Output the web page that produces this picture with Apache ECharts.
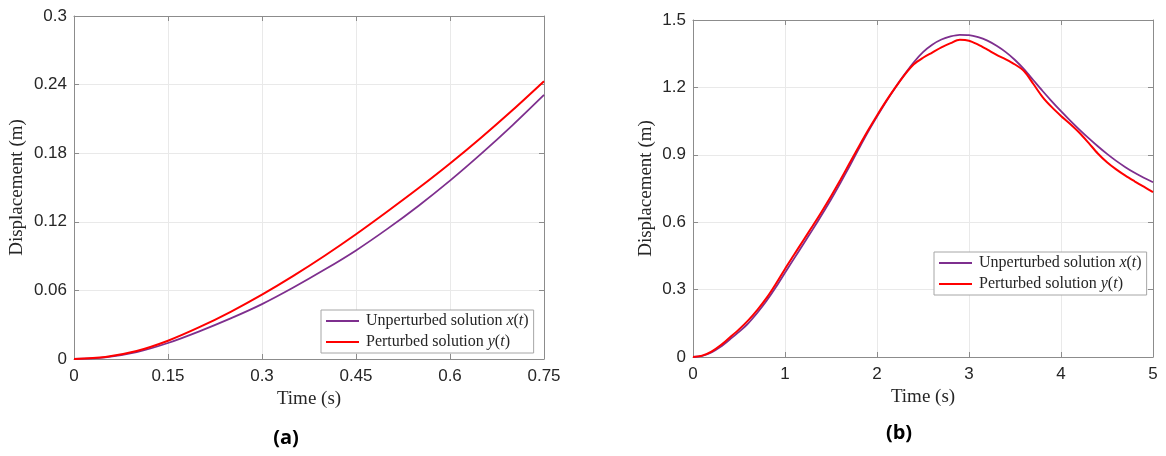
<!DOCTYPE html>
<html>
<head>
<meta charset="utf-8">
<script src="https://cdn.jsdelivr.net/npm/echarts@6/dist/echarts.min.js"></script>
<style>
    html, body { margin: 0; padding: 0; background: #fff; }
    #chart { width: 1166px; height: 456px; }
</style>
</head>
<body>
<div id="chart"></div>
<script>
    // (a) 短时间 0 - 0.75 s
    var timeA = [0, 0.05, 0.1, 0.15, 0.2, 0.25, 0.3, 0.35, 0.4, 0.45, 0.5, 0.55, 0.6, 0.65, 0.7, 0.75];
    var unpertA = [0, 0.0015, 0.006, 0.014, 0.0242, 0.0355, 0.048, 0.0625, 0.0782, 0.095, 0.1138, 0.1341, 0.156, 0.1796, 0.2046, 0.231];
    var pertA = [0, 0.0018, 0.007, 0.016, 0.0278, 0.0413, 0.0563, 0.0727, 0.0903, 0.1091, 0.129, 0.1495, 0.171, 0.1938, 0.2178, 0.243];

    // (b) 0 - 5 s
    var timeB = [0, 0.1, 0.2, 0.3, 0.4, 0.5, 0.6, 0.7, 0.8, 0.9,
        1.0, 1.1, 1.2, 1.3, 1.4, 1.5, 1.6, 1.7, 1.8, 1.9,
        2.0, 2.1, 2.2, 2.3, 2.4, 2.5, 2.6, 2.7, 2.8, 2.9,
        3.0, 3.1, 3.2, 3.3, 3.4, 3.5, 3.6, 3.7, 3.8, 3.9,
        4.0, 4.1, 4.2, 4.3, 4.4, 4.5, 4.6, 4.7, 4.8, 4.9, 5.0];
    var unpertB = [0, 0.005, 0.02, 0.045, 0.078, 0.112, 0.15, 0.197, 0.25, 0.31,
        0.375, 0.439, 0.503, 0.567, 0.633, 0.701, 0.773, 0.848, 0.925, 1.0,
        1.07, 1.137, 1.2, 1.258, 1.312, 1.357, 1.39, 1.413, 1.427, 1.434,
        1.433, 1.424, 1.408, 1.385, 1.357, 1.322, 1.28, 1.232, 1.184, 1.138,
        1.094, 1.052, 1.012, 0.974, 0.938, 0.904, 0.873, 0.845, 0.82, 0.798, 0.778];
    var pertB = [0, 0.006, 0.024, 0.052, 0.087, 0.123, 0.163, 0.21, 0.263, 0.325,
        0.392, 0.456, 0.52, 0.583, 0.648, 0.716, 0.787, 0.861, 0.935, 1.007,
        1.075, 1.14, 1.2, 1.256, 1.303, 1.332, 1.355, 1.378, 1.397, 1.412,
        1.408, 1.39, 1.368, 1.345, 1.325, 1.302, 1.272, 1.215, 1.157, 1.112,
        1.073, 1.037, 0.998, 0.953, 0.906, 0.867, 0.835, 0.807, 0.782, 0.758, 0.734];

    var legendNames = ['Unperturbed solution x(t)', 'Perturbed solution y(t)'];

    function pairs(t, v) {
        return t.map(function (x, i) { return [x, v[i]]; });
    }

    var boxColor = '#8c8c8c';
    var labelStyle = { color: '#262626', fontFamily: 'Liberation Sans', fontSize: 17 };
    var nameStyle = { color: '#262626', fontFamily: 'Liberation Serif', fontSize: 19 };
    var fmt = function (v) { return String(+v.toFixed(2)); };

    function mainX(grid, max, interval, gap) {
        return {
            type: 'value', gridIndex: grid, min: 0, max: max, interval: interval,
            name: 'Time (s)', nameLocation: 'middle', nameGap: gap, nameTextStyle: nameStyle,
            axisLine: { show: true, lineStyle: { color: boxColor } },
            axisTick: { show: true, inside: true, length: 5, lineStyle: { color: boxColor } },
            axisLabel: Object.assign({ margin: 9, formatter: fmt }, labelStyle),
            splitLine: { show: true, lineStyle: { color: '#e9e9e9' } }
        };
    }
    function mainY(grid, max, interval, gap) {
        return {
            type: 'value', gridIndex: grid, min: 0, max: max, interval: interval,
            name: 'Displacement (m)', nameLocation: 'middle', nameGap: gap, nameTextStyle: nameStyle,
            axisLine: { show: true, lineStyle: { color: boxColor } },
            axisTick: { show: true, inside: true, length: 5, lineStyle: { color: boxColor } },
            axisLabel: Object.assign({ margin: 7, formatter: fmt }, labelStyle),
            splitLine: { show: true, lineStyle: { color: '#e9e9e9' } }
        };
    }
    // 上/右边框带刻度（MATLAB box on）
    function boxAxis(grid, max, interval, pos) {
        return {
            type: 'value', gridIndex: grid, position: pos, min: 0, max: max, interval: interval,
            axisLine: { show: true, onZero: false, lineStyle: { color: boxColor } },
            axisTick: { show: true, inside: true, length: 5, lineStyle: { color: boxColor } },
            axisLabel: { show: false },
            splitLine: { show: false }
        };
    }

    var legendRich = {
        a: { fontFamily: 'Liberation Serif', fontSize: 16, color: '#262626' },
        i: { fontFamily: 'Liberation Serif', fontSize: 16, fontStyle: 'italic', color: '#262626' }
    };
    function legendFmt(name) {
        var head = name.slice(0, name.length - 4);
        var v = name.charAt(name.length - 4);
        return '{a|' + head + '}{i|' + v + '}{a|(}{i|t}{a|)}';
    }
    function legend(left, top) {
        return {
            data: legendNames, orient: 'vertical', left: left, top: top,
            itemWidth: 33, itemHeight: 2, itemGap: 5, icon: 'rect',
            padding: [3, 5, 3, 5], borderColor: '#a6a6a6', borderWidth: 1,
            backgroundColor: '#fff',
            textStyle: { rich: legendRich, padding: [0, 0, 0, 2] },
            formatter: legendFmt,
            selectedMode: false
        };
    }

    function line(name, x, y, data, color, width) {
        return {
            name: name, type: 'line', xAxisIndex: x, yAxisIndex: y, data: data,
            showSymbol: false, symbol: 'none', smooth: 0.3,
            lineStyle: { color: color, width: width }, itemStyle: { color: color },
            animation: false
        };
    }

    var myChart = echarts.init(document.getElementById('chart'));
    myChart.setOption({
        backgroundColor: '#fff',
        grid: [
            { left: 74, top: 16, width: 470, height: 343, show: true, borderColor: boxColor, borderWidth: 0 },
            { left: 693, top: 20, width: 460, height: 337, show: true, borderColor: boxColor, borderWidth: 0 }
        ],
        xAxis: [
            mainX(0, 0.75, 0.15, 30),
            boxAxis(0, 0.75, 0.15, 'top'),
            mainX(1, 5, 1, 29),
            boxAxis(1, 5, 1, 'top')
        ],
        yAxis: [
            mainY(0, 0.3, 0.06, 47),
            boxAxis(0, 0.3, 0.06, 'right'),
            mainY(1, 1.5, 0.3, 37),
            boxAxis(1, 1.5, 0.3, 'right')
        ],
        legend: [legend(321, 310), legend(934, 252)],
        series: [
            line(legendNames[0], 0, 0, pairs(timeA, unpertA), '#7E2F8E', 1.8),
            line(legendNames[1], 0, 0, pairs(timeA, pertA), '#FF0000', 2),
            line(legendNames[0], 2, 2, pairs(timeB, unpertB), '#7E2F8E', 1.8),
            line(legendNames[1], 2, 2, pairs(timeB, pertB), '#FF0000', 2)
        ],
        graphic: [
            { type: 'text', x: 286, y: 438, style: { text: '(a)', font: 'bold 20px "Open Sans"', fill: '#000', align: 'center', verticalAlign: 'middle' } },
            { type: 'text', x: 899, y: 433, style: { text: '(b)', font: 'bold 20px "Open Sans"', fill: '#000', align: 'center', verticalAlign: 'middle' } }
        ]
    });
</script>
</body>
</html>
